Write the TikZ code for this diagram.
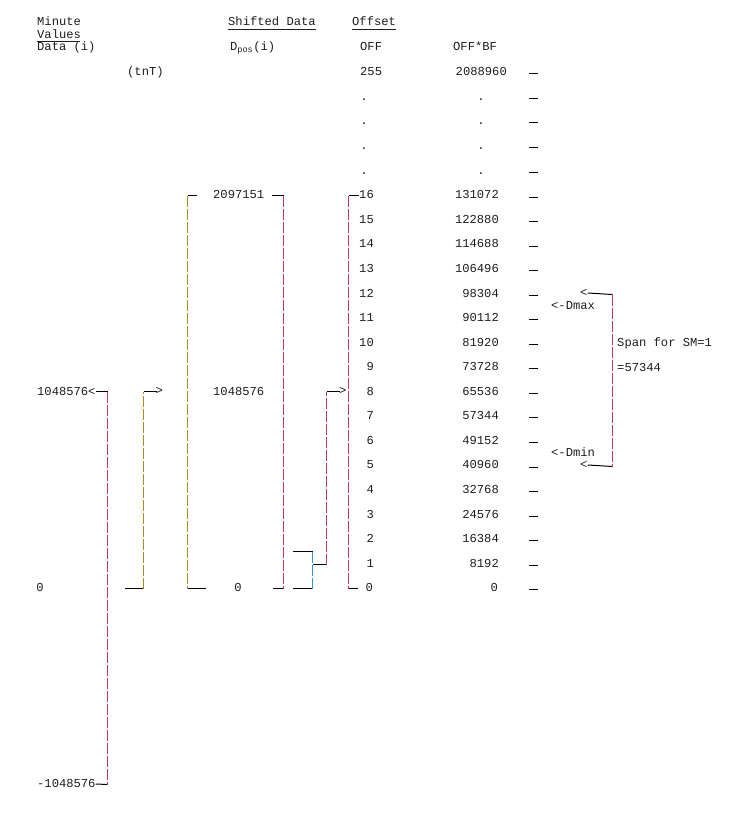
\documentclass[tikz,border=0pt]{standalone}
\usepackage{fontspec}
\setmainfont{Liberation Mono}
\definecolor{textc}{HTML}{1E1E1E}
\definecolor{lred}{HTML}{C43C5C}
\definecolor{lolive}{HTML}{A88C20}
\definecolor{lblue}{HTML}{3094E0}
\begin{document}
\begin{tikzpicture}[x=1bp,y=-1bp,
  txt/.style={inner sep=0pt, text height=8pt, text depth=0pt, anchor=west, text=textc, font=\fontsize{12.2}{14}\selectfont},
  txte/.style={txt, anchor=east},
  txtc/.style={txt, anchor=center},
  hl/.style={line width=1bp, black},
  vd/.style={draw=#1, line width=1.5bp, dash pattern=on 11bp off 2bp}]
\useasboundingbox (0,0) rectangle (740,819);

% headers
\node[txt] (hMin) at (37,22) {Minute};
\node[txt] (hVal) at (37,35) {Values};
\draw[line width=0.8bp, textc] (37,41.5) -- (80,41.5);
\node[txt] (hDat) at (37,47) {Data (i)};
\node[txt] (hShift) at (228,22) {Shifted Data};
\draw[line width=0.8bp, textc] (228,29.5) -- (316,29.5);
\node[txt] (hOff) at (352,22) {Offset};
\draw[line width=0.8bp, textc] (352,29.5) -- (396,29.5);
\node[txt] (hDpos) at (230,47) {D\textsubscript{pos}(i)};
\node[txt] (hOFF) at (360,47) {OFF};
\node[txt] (hOBF) at (453,47) {OFF*BF};
\node[txt] (tnT) at (127,72) {(tnT)};

% offset column
\node[txt] (o255) at (360,72) {255};
\node[txtc] (od1) at (364,97) {.};
\node[txtc] (od2) at (364,121) {.};
\node[txtc] (od3) at (364,146) {.};
\node[txtc] (od4) at (364,171) {.};
\node[txte] (o16) at (374,195) {16};
\node[txte] (o15) at (374,219.5) {15};
\node[txte] (o14) at (374,244) {14};
\node[txte] (o13) at (374,269) {13};
\node[txte] (o12) at (374,294) {12};
\node[txte] (o11) at (374,318) {11};
\node[txte] (o10) at (374,342.5) {10};
\node[txte] (o9) at (374,367) {9};
\node[txte] (o8) at (374,391.5) {8};
\node[txte] (o7) at (374,416) {7};
\node[txte] (o6) at (374,441) {6};
\node[txte] (o5) at (374,465) {5};
\node[txte] (o4) at (374,490) {4};
\node[txte] (o3) at (374,514.5) {3};
\node[txte] (o2) at (374,539) {2};
\node[txte] (o1) at (374,563.5) {1};
\node[txte] (o0) at (373,588) {0};

% OFF*BF column
\node[txte] (b255) at (507,72) {2088960};
\node[txtc] (bd1) at (481,97) {.};
\node[txtc] (bd2) at (481,121) {.};
\node[txtc] (bd3) at (481,146) {.};
\node[txtc] (bd4) at (481,171) {.};
\node[txte] (b16) at (499,195) {131072};
\node[txte] (b15) at (499,219.5) {122880};
\node[txte] (b14) at (499,244) {114688};
\node[txte] (b13) at (499,269) {106496};
\node[txte] (b12) at (499,294) {98304};
\node[txte] (b11) at (499,318) {90112};
\node[txte] (b10) at (499,342.5) {81920};
\node[txte] (b9) at (499,367) {73728};
\node[txte] (b8) at (499,391.5) {65536};
\node[txte] (b7) at (499,416) {57344};
\node[txte] (b6) at (499,441) {49152};
\node[txte] (b5) at (499,465) {40960};
\node[txte] (b4) at (499,490) {32768};
\node[txte] (b3) at (499,514.5) {24576};
\node[txte] (b2) at (499,539) {16384};
\node[txte] (b1) at (499,563.5) {8192};
\node[txte] (b0) at (498,588) {0};

% tick marks
\foreach \yy in {73.5,98.5,122.5,147.5,172.5,197.5,221.5,246.5,270.5,295.5,319.5,344.5,368.5,393.5,417.5,442.5,467.5,491.5,516.5,540.5,565.5,589.5}
  \draw[hl] (529,\yy) -- (538,\yy);

% left values
\node[txt] (l1) at (37,391.5) {1048576<};
\node[txtc] (l0) at (40,588) {0};
\node[txt] (lm) at (37,784) {-1048576};
\coordinate (lt) at (107.5,391.5);
\coordinate (lb) at (107.5,784.5);
\draw[hl] (l1.east) -- (lt);
\draw[hl] (lm.east) -- (lb);
\draw[vd=lred] (lt) -- (lb);

% tnT bracket
\coordinate (ta) at (125,588.5);
\coordinate (tb) at (143.5,588.5);
\coordinate (tc) at (143.5,391.5);
\coordinate (td) at (157,391.5);
\draw[hl] (ta) -- (tb);
\draw[vd=lolive] (tb) -- (tc);
\draw[hl] (tc) -- (td);
\node[txt, anchor=west] (tarr) at (155.5,390.5) {>};

% Shifted data bracket
\node[txt] (s2) at (213,195) {2097151};
\node[txt] (s1) at (213,391.5) {1048576};
\node[txtc] (s0) at (238,588) {0};
\coordinate (sl1) at (187.5,195.5);
\coordinate (sl2) at (187.5,588.5);
\draw[hl] (197,195.5) -- (sl1);
\draw[hl] (sl2) -- (206,588.5);
\draw[vd=lolive] (sl1) -- (sl2);
\coordinate (sr1) at (283.5,195.5);
\coordinate (sr2) at (283.5,588.5);
\draw[hl] (272,195.5) -- (sr1);
\draw[hl] (273,588.5) -- (sr2);
\draw[vd=lred] (sr1) -- (sr2);

% small join
\coordinate (j1) at (293,551.5);
\coordinate (j2) at (312.5,551.5);
\coordinate (j3) at (312.5,588.5);
\coordinate (j4) at (293,588.5);
\coordinate (jm) at (312.5,564.5);
\coordinate (k1) at (326.5,564.5);
\coordinate (k2) at (326.5,391.5);
\coordinate (k3) at (340,391.5);
\draw[hl] (j1) -- (j2);
\draw[hl] (j4) -- (j3);
\draw[vd=lblue] (j2) -- (j3);
\draw[hl] (jm) -- (k1);
\draw[vd=lred] (k1) -- (k2);
\draw[hl] (k2) -- (k3);
\node[txt, anchor=west] (karr) at (339,390.5) {>};

% offset bracket
\coordinate (ob1) at (348.5,195.5);
\coordinate (ob2) at (348.5,588.5);
\draw[hl] (359,195.5) -- (ob1);
\draw[hl] (ob2) -- (358,588.5);
\draw[vd=lred] (ob1) -- (ob2);

% right brace
\node[txt] (dmax) at (551,306) {<-Dmax};
\node[txt] (dmin) at (551,453) {<-Dmin};
\node[txt] (span) at (617,342.5) {Span for SM=1};
\node[txt] (span2) at (617,367.5) {=57344};
\node[txt] (ra1) at (580,293) {<};
\node[txt] (ra2) at (580,465) {<};
\coordinate (rb1) at (612.5,294.5);
\coordinate (rb2) at (612.5,466.5);
\draw[hl] (ra1.east) -- (rb1);
\draw[hl] (ra2.east) -- (rb2);
\draw[vd=lred] (rb1) -- (rb2);
\end{tikzpicture}
\end{document}
